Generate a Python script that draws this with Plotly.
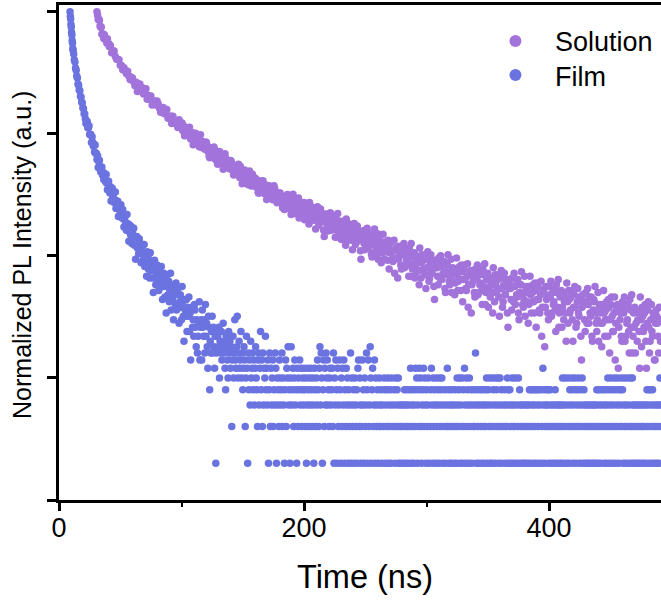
import numpy as np
import plotly.graph_objects as go

PEAK_COUNTS = 5000  # counts at the normalised maximum (1.0)

# ---------------- Solution: photon counts ----------------
# segment 1: every 0.5 ns from t = 31 ns
solution_seg1_t0, solution_seg1_dt = 31, 0.5
solution_seg1_counts = [
    5000, 4680, 4320, 4340, 4250, 3820, 3730, 3750, 3270, 3280,
    3290, 3010, 3240, 3050, 2940, 3000, 2770, 3000, 2740, 2750,
]
# segment 2: every 1 ns from t = 41 ns
solution_seg2_t0, solution_seg2_dt = 41, 1
solution_seg2_counts = [
    2590, 2640, 2310, 2390, 2380, 2150, 2040, 2030, 2020, 1820,
    1810, 1670, 1740, 1640, 1560, 1630, 1490, 1390, 1450, 1430,
    1330, 1240, 1320, 1110, 1230, 1280, 1130, 1190, 1060, 1080,
    1170, 960, 1030, 970, 1020, 860, 930, 930, 860, 930,
    880, 810, 750, 800, 820, 730, 745, 790, 670, 686,
    700, 608, 696, 638, 606, 639, 564, 652, 570, 583,
    532, 577, 483, 537, 557, 494, 473, 493, 510, 454,
    443, 467, 476, 429, 396, 424, 433, 402, 374, 428,
    394, 358, 318, 384, 355, 338, 371, 306, 347, 321,
    358, 295, 317, 256, 316, 317, 279, 284, 259, 302,
    287, 258, 234, 261, 273, 234, 246, 271, 217, 228,
    238, 197, 242, 216, 203, 221, 187, 233, 196, 204,
    183, 207, 163, 192, 205, 176, 166, 179, 190, 164,
    174, 153, 175, 163, 152, 178, 153, 136, 157, 163,
    145, 134, 152, 120, 143, 154, 132, 144, 125, 132,
    160, 111, 134, 121, 139, 102, 124, 129, 112, 137,
    115, 105, 122, 91, 115, 126, 104, 117, 98, 105,
    126, 89, 107, 97, 110, 81, 99, 103, 89, 110,
    97, 81, 100, 91, 82, 104, 84, 71, 90, 96,
    81, 73, 88, 61, 82, 92, 73, 84, 67, 75,
    92, 62, 77, 68, 80, 55, 71, 75, 63, 81,
    60, 71, 76, 62, 52, 65, 70, 61, 52, 76,
    64, 55, 44, 65, 58, 54, 65, 46, 60, 53,
    66, 47, 55, 36, 57, 59, 47, 50, 42, 59,
    51, 40, 54, 48, 42, 58, 43, 34, 49, 53,
    42, 37, 48, 29, 44, 51, 38, 47, 35, 40,
    54, 31, 43, 37, 46, 28, 40, 43, 34, 48,
    33, 41, 45, 35, 27, 37, 42, 35, 29, 47,
    38, 31, 24, 39, 35, 31, 41, 26, 37, 32,
    42, 27, 34, 19, 36, 38, 29, 31, 25, 39,
    33, 24, 35, 30, 26, 39, 28, 20, 32, 36,
    27, 23, 32, 17, 29, 35, 25, 32, 23, 27,
    38, 19, 29, 24, 32, 17, 27, 29, 22, 33,
    21, 28, 32, 23, 17, 25, 29, 24, 19, 34,
    26, 21, 14, 28, 24, 21, 29, 17, 26, 22,
    30, 18, 24, 11, 26, 27, 19, 22, 17, 28,
    23, 16, 25, 21, 18, 29, 19, 13, 23, 26,
    19, 15, 23, 10, 21, 26, 17, 23, 15, 19,
    28, 13, 21, 17, 23, 11, 19, 21, 15, 25,
    14, 20, 23, 16, 11, 18, 21, 17, 12, 25,
    19, 14, 9, 20, 17, 15, 21, 11, 19, 15,
    23, 12, 17, 7, 19, 20, 13, 15, 11, 21,
    17, 10, 19, 15, 12, 22, 13, 8, 17, 19,
    14, 10, 17, 6, 15, 19, 12, 17, 10, 14,
    21, 8, 15, 12, 17, 7, 14, 16, 11, 19, 10,
]
# segment 3: every 1 ns from t = 100.5 ns (interleaved channels)
solution_seg3_t0, solution_seg3_dt = 100.5, 1
solution_seg3_counts = [
    613, 526, 481, 544, 554, 503, 566, 454, 502, 406,
    465, 505, 431, 465, 391, 492, 386, 421, 390, 423,
    419, 359, 329, 373, 380, 344, 389, 312, 347, 281,
    323, 350, 300, 324, 273, 343, 270, 295, 274, 299,
    299, 253, 230, 265, 272, 246, 281, 219, 248, 195,
    229, 252, 212, 232, 191, 248, 190, 211, 196, 216,
    215, 183, 166, 193, 198, 180, 206, 162, 183, 145,
    170, 188, 158, 173, 144, 188, 144, 160, 148, 164,
    164, 137, 124, 146, 152, 136, 159, 122, 141, 109,
    131, 147, 122, 136, 110, 149, 112, 126, 116, 130,
    99, 126, 118, 106, 137, 97, 115, 106, 124, 83,
    116, 103, 92, 121, 95, 107, 72, 110, 100, 80,
    100, 113, 83, 89, 103, 71, 97, 111, 78, 80,
    68, 90, 84, 75, 100, 67, 82, 75, 90, 56,
    84, 74, 64, 88, 67, 77, 47, 80, 72, 56,
    72, 84, 58, 64, 76, 49, 71, 83, 55, 58,
    47, 67, 61, 53, 75, 47, 61, 54, 67, 39,
    63, 54, 45, 67, 48, 57, 33, 60, 53, 39,
    53, 63, 41, 46, 56, 34, 52, 63, 39, 42,
    33, 49, 45, 38, 58, 33, 45, 39, 51, 27,
    47, 40, 33, 51, 36, 44, 22, 46, 40, 29,
    41, 50, 32, 36, 45, 25, 42, 51, 31, 33,
    25, 40, 36, 30, 48, 26, 37, 32, 42, 21,
    39, 32, 26, 43, 29, 36, 17, 38, 33, 23,
    34, 42, 25, 29, 37, 20, 35, 43, 25, 27,
    19, 33, 29, 25, 40, 21, 30, 26, 35, 16,
    33, 27, 21, 36, 24, 30, 13, 32, 27, 18,
    28, 36, 20, 24, 32, 15, 29, 37, 20, 22,
    16, 28, 25, 20, 34, 17, 25, 21, 30, 13,
    28, 22, 17, 31, 19, 25, 9, 28, 23, 15,
    24, 31, 17, 20, 27, 12, 25, 32, 17, 18,
    13, 24, 21, 17, 30, 14, 22, 18, 26, 10,
    24, 19, 14, 27, 16, 22, 7, 24, 20, 12,
    21, 27, 14, 17, 23, 10, 22, 28, 14, 15,
    10, 20, 17, 14, 26, 11, 18, 15, 22, 8,
    20, 16, 12, 23, 14, 19, 6, 20, 17, 10,
    18, 23, 11, 14, 20, 8, 18, 24, 11, 13,
    8, 18, 15, 12, 23, 9, 16, 13, 20, 6,
    18, 13, 10, 20, 11, 16, 7, 18, 14, 8, 15,
]

# ---------------- Film: photon counts ----------------
# segment A: every 0.25 ns from t = 9 ns
film_segA_t0, film_segA_dt = 9, 0.25
film_segA_counts = [5000, 4590, 4350, 3940, 3750, 3390, 3230, 2910, 2770, 2500, 2420]
# segment B: every 0.5 ns from t = 12 ns
film_segB_t0, film_segB_dt = 12, 0.5
film_segB_counts = [
    2250, 2020, 1940, 1730, 1660, 1490, 1430, 1280, 1250, 1140,
    1125, 1015, 1000, 910, 895, 815, 800, 730,
]
# segment C: every 0.5 ns from t = 21 ns
film_segC_t0, film_segC_dt = 21, 0.5
film_segC_counts = [
    726, 663, 608, 629, 629, 559, 559, 581, 493, 495,
    493, 425, 473, 427, 398, 410, 354, 405, 345, 346,
    308, 331, 265, 295, 304, 260, 244, 256, 267, 230,
    241, 211, 238, 218, 202, 232, 197, 174, 199, 204,
    179, 164, 184, 141, 168, 179, 150, 163, 137, 144,
    167, 122, 141, 127, 140, 105, 124, 128, 111, 131,
    103, 115, 120, 100, 86, 101, 106, 93, 81, 109,
    92, 80, 66, 90, 81, 74, 87, 63, 79, 70,
    84, 61, 70, 47, 71, 72, 58, 61, 52, 69,
    64, 53, 44, 56, 61, 46, 51, 62, 41, 46,
    50, 34, 54, 44, 39, 47, 33, 53, 38, 42,
    33, 45, 25, 39, 46, 33, 29, 36, 42, 30,
    36, 26, 38, 33, 28, 41, 29, 22, 33, 36,
    28, 23, 32, 17, 29, 35, 24, 31, 21, 26,
    36, 18, 27, 22, 29, 15, 24, 26, 20, 30,
    18, 24, 27, 20, 14, 21, 24, 19, 15, 28,
    21, 16, 10, 22, 18, 16, 22, 12, 19, 16,
    23, 12, 17, 7, 18, 19, 13, 15, 11, 20,
    18, 13, 9, 15, 8, 11, 14, 21, 7, 13,
    15, 7, 18, 13, 11, 15, 8, 20, 11, 14,
    9, 6, 16, 13, 4, 10, 8, 12, 16, 8,
    13, 9, 6, 11, 1, 8, 12,
]
# segment D (tail): every 0.5 ns from t = 129.5 ns (0 = no count)
film_segD_t0, film_segD_dt = 129.5, 0.5
film_segD_counts = [
    11, 9, 13, 5, 10, 8, 12, 7, 9, 14, 8, 10, 6, 4, 11, 9, 7, 5, 12, 8,
    10, 6, 9, 2, 7, 11, 5, 8, 15, 7, 6, 9, 16, 5, 8, 10, 6, 7, 12, 5,
    8, 4, 6, 9, 7, 2, 5, 11, 6, 1, 8, 4, 7, 3, 10, 5, 6, 8, 4, 7,
    3, 6, 9, 5, 4, 2, 7, 8, 3, 6, 12, 4, 7, 2, 8, 3, 6, 5, 11, 4,
    6, 3, 7, 1, 4, 8, 2, 6, 3, 5, 7, 2, 4, 3, 8, 6, 1, 5, 3, 4,
    2, 7, 5, 3, 4, 8, 2, 5, 3, 1, 4, 7, 2, 6, 5, 9, 3, 4, 1, 5,
    9, 3, 4, 6, 2, 5, 7, 3, 4, 1, 6, 2, 5, 4, 7, 3, 6, 2, 4, 5,
    3, 6, 4, 2, 5, 1, 3, 6, 4, 2, 5, 3, 6, 4, 2, 5, 3, 1, 6, 4,
    2, 5, 3, 7, 4, 2, 6, 9, 3, 8, 5, 1, 4, 7, 2, 6, 3, 8, 5, 7,
    3, 4, 2, 5, 6, 3, 4, 6, 2, 8, 1, 5, 3, 7, 4, 1, 6, 2, 3, 7,
    4, 1, 5, 2, 6, 3, 7, 1, 4, 2, 6, 3, 5, 1, 4, 2, 3, 8, 1, 5,
    2, 3, 4, 1, 5, 2, 3, 4, 1, 6, 7, 2, 5, 3, 1, 2, 7, 3, 4, 1,
    5, 2, 3, 8, 4, 1, 7, 2, 3, 9, 5, 1, 4, 6, 2, 3, 7, 1, 5, 2,
    3, 4, 1, 2, 5, 3, 2, 4, 1, 3, 0, 2, 5, 4, 1, 3, 2, 4, 5, 1,
    2, 3, 4, 1, 5, 2, 3, 0, 4, 2, 1, 5, 3, 4, 2, 5, 1, 3, 2, 1,
    3, 2, 0, 1, 3, 4, 2, 1, 3, 2, 4, 1, 3, 2, 4, 6, 1, 3, 2, 4,
    1, 3, 2, 6, 4, 5, 1, 3, 2, 6, 4, 5, 2, 1, 3, 4, 6, 2, 5, 3,
    1, 4, 2, 3, 5, 1, 0, 2, 4, 6, 3, 1, 5, 2, 4, 3, 1, 5, 2, 3,
    4, 1, 5, 2, 3, 4, 5, 1, 2, 3, 0, 4, 1, 2, 3, 6, 2, 4, 1, 3,
    2, 1, 4, 3, 2, 0, 1, 3, 4, 2, 1, 5, 3, 2, 4, 5, 1, 3, 2, 5,
    1, 4, 2, 6, 3, 1, 5, 2, 4, 3, 1, 5, 2, 3, 4, 1, 0, 2, 3, 4,
    2, 8, 1, 3, 4, 2, 1, 3, 0, 4, 2, 1, 3, 4, 2, 1, 3, 2, 4, 5,
    1, 3, 4, 2, 5, 1, 3, 2, 1, 5, 4, 2, 3, 1, 5, 4, 2, 3, 5, 1,
    2, 5, 3, 4, 1, 2, 0, 3, 4, 2, 1, 3, 2, 5, 4, 1, 3, 4, 2, 1,
    3, 5, 2, 1, 3, 2, 5, 1, 0, 3, 2, 5, 1, 4, 3, 2, 1, 3, 0, 2,
    1, 3, 2, 1, 0, 3, 2, 1, 3, 4, 2, 1, 4, 3, 2, 4, 1, 3, 4, 2,
    1, 4, 3, 2, 4, 1, 3, 0, 4, 2, 1, 6, 3, 4, 2, 1, 3, 4, 2, 3,
    4, 1, 2, 4, 3, 1, 2, 0, 3, 1, 2, 4, 3, 1, 2, 0, 3, 2, 1, 3,
    2, 1, 3, 5, 2, 1, 3, 5, 2, 0, 1, 3, 5, 2, 1, 4, 3, 2, 5, 4,
    1, 3, 2, 5, 4, 1, 2, 3, 4, 5, 2, 1, 3, 4, 2, 5, 1, 3, 4, 2,
    1, 3, 2, 0, 1, 3, 2, 1, 3, 2, 0, 1, 3, 2, 1, 3, 2, 1, 3, 4,
    2, 1, 4, 3, 2, 1, 4, 3, 2, 0, 4, 1, 3, 2, 4, 1, 3, 5, 2, 4,
    1, 3, 5, 2, 4, 1, 3, 2, 5, 4, 1, 2, 3, 5, 4, 1, 2, 3, 4, 5,
    2, 4, 1, 3, 5, 2, 1, 3, 2, 5, 0, 1, 3, 2, 5, 1, 2, 5, 3, 1,
    2, 3, 1, 0, 2, 3, 1, 2, 3, 1, 0, 2, 3, 1, 2, 3, 1, 2, 0, 3,
    1, 4, 2, 3, 4, 1, 2, 4, 3, 1, 4, 2, 3, 1, 2, 0, 3, 1, 2, 3, 1, 2, 5, 3,
]

SERIES_NAMES = ["Solution", "Film"]
SERIES_COLORS = ["#a274db", "#6b73e0"]

X_TICKS = [0, 200, 400]
X_MINOR_TICKS = [100, 300]
Y_TICKS = [1e-4, 1e-3, 1e-2, 1e-1, 1]


def to_series(segments):
    ts, ys = [], []
    for t0, dt, counts in segments:
        t = t0 + dt * np.arange(len(counts))
        c = np.asarray(counts, dtype=float)
        keep = c > 0
        ts.append(t[keep])
        ys.append(c[keep] / PEAK_COUNTS)
    return np.concatenate(ts), np.concatenate(ys)


sol_t, sol_y = to_series([
    (solution_seg1_t0, solution_seg1_dt, solution_seg1_counts),
    (solution_seg2_t0, solution_seg2_dt, solution_seg2_counts),
    (solution_seg3_t0, solution_seg3_dt, solution_seg3_counts),
])
film_t, film_y = to_series([
    (film_segA_t0, film_segA_dt, film_segA_counts),
    (film_segB_t0, film_segB_dt, film_segB_counts),
    (film_segC_t0, film_segC_dt, film_segC_counts),
    (film_segD_t0, film_segD_dt, film_segD_counts),
])

FONT = "Arial, 'Liberation Sans', sans-serif"
PAD = "\u00a0\u00a0\u2006"

fig = go.Figure()
for name, color, (tx, ty), leg in zip(SERIES_NAMES, SERIES_COLORS,
                                      [(sol_t, sol_y), (film_t, film_y)],
                                      ["legend", "legend2"]):
    fig.add_trace(go.Scatter(
        x=tx, y=ty, mode="markers", name=PAD + name, legend=leg,
        marker=dict(size=7.5, color=color, line=dict(width=0)),
    ))

legend_common = dict(
    xanchor="left", yanchor="top", bgcolor="rgba(0,0,0,0)",
    font=dict(size=27, family=FONT, color="black"), itemsizing="constant",
)

fig.update_layout(
    width=661, height=600,
    margin=dict(l=59, r=0, t=5, b=100),
    paper_bgcolor="white", plot_bgcolor="white",
    font=dict(family=FONT, color="black"),
    showlegend=True,
    legend=dict(x=0.725, y=0.976, **legend_common),
    legend2=dict(x=0.725, y=0.907, **legend_common),
    xaxis=dict(
        range=[0, 491.4], showgrid=False, zeroline=False,
        showline=True, linecolor="black", linewidth=3, mirror=True,
        ticks="outside", ticklen=8, tickwidth=3, tickcolor="black",
        tickvals=X_TICKS, ticktext=[str(v) for v in X_TICKS],
        tickfont=dict(size=27, family=FONT), ticklabelstandoff=-6,
        minor=dict(tickvals=X_MINOR_TICKS, ticks="outside", ticklen=4,
                   tickwidth=2, tickcolor="black"),
    ),
    yaxis=dict(
        type="log", range=[-4, 0.055], showgrid=False, zeroline=False,
        showline=True, linecolor="black", linewidth=3,
        ticks="outside", ticklen=9, tickwidth=3, tickcolor="black",
        tickvals=Y_TICKS, showticklabels=False,
    ),
    annotations=[
        dict(
            text="Normalized PL Intensity (a.u.)", textangle=-90,
            xref="paper", yref="paper", x=-0.0615, y=0.495,
            xanchor="center", yanchor="middle", showarrow=False,
            font=dict(size=25, family=FONT, color="black"),
        ),
        dict(
            text="Time (ns)", xref="paper", yref="paper",
            x=0.508, y=-0.156, xanchor="center", yanchor="middle",
            showarrow=False, font=dict(size=32.5, family=FONT, color="black"),
        ),
    ],
)

fig.write_html("out.html")
